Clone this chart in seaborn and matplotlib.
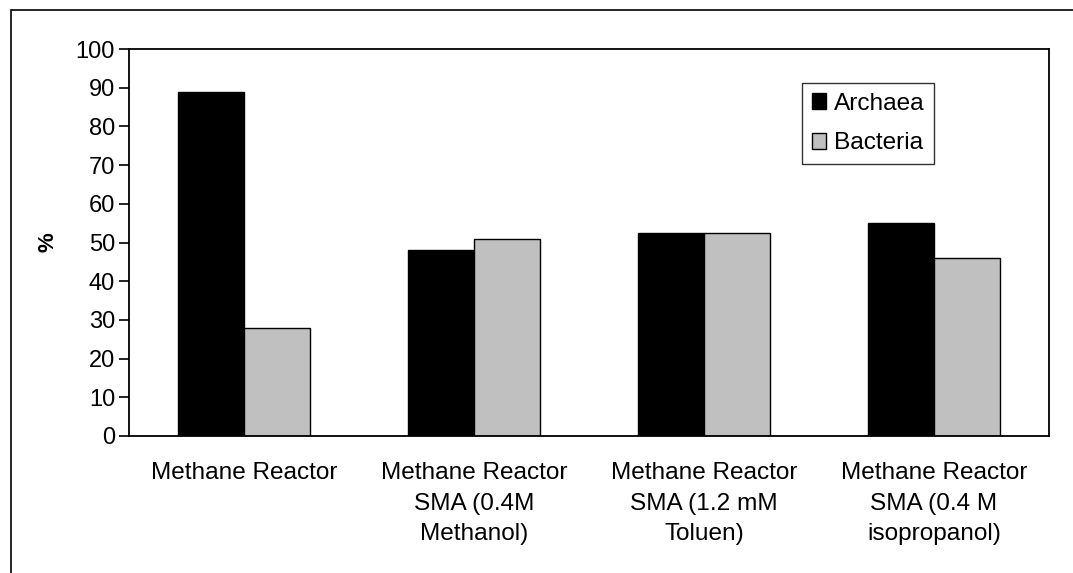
import matplotlib
matplotlib.use("Agg")
import matplotlib.pyplot as plt
import matplotlib.patches as mpatches
import seaborn as sns
import pandas as pd
import numpy as np

categories = ["Methane Reactor",
              "Methane Reactor\nSMA (0.4M\nMethanol)",
              "Methane Reactor\nSMA (1.2 mM\nToluen)",
              "Methane Reactor\nSMA (0.4 M\nisopropanol)"]
archaea = [89, 48, 52.5, 55]
bacteria = [28, 51, 52.5, 46]
series = ["Archaea", "Bacteria"]
colors = ["#000000", "#C0C0C0"]
yticks = list(range(0, 101, 10))

df = pd.DataFrame({
    "cat": categories * 2,
    "val": archaea + bacteria,
    "series": [series[0]] * 4 + [series[1]] * 4,
})

sns.set_style("white")
plt.rcParams['font.family'] = ['Liberation Sans', 'DejaVu Sans']
plt.rcParams['text.color'] = 'black'
plt.rcParams['xtick.color'] = 'black'
plt.rcParams['ytick.color'] = 'black'
plt.rcParams['axes.labelcolor'] = 'black'

fig = plt.figure(figsize=(10.73, 5.73), dpi=100)
ax = fig.add_axes([129/1073, 1-436/573, (1049-129)/1073, (436-49)/573])

sns.barplot(data=df, x="cat", y="val", hue="series", palette=colors,
            width=0.575, edgecolor="black", linewidth=1.0, ax=ax,
            saturation=1, legend=False)

ax.set_ylim(0, 100)
ax.set_xlim(-0.5, 3.5)
ax.set_yticks(yticks)
ax.set_yticklabels([str(t) for t in yticks], fontsize=17)
ax.set_xticks(range(4))
ax.set_xticklabels(categories, fontsize=17.6, linespacing=1.5)
ax.set_xticks(np.arange(-0.5, 4, 1), minor=True)
ax.tick_params(axis='x', which='major', length=0, pad=19)
ax.tick_params(axis='x', which='minor', length=7, width=1.2, color='black', direction='out')
ax.tick_params(axis='y', length=7, width=1.2, color='black', direction='out', left=True, pad=3)
ax.set_xlabel("")
ax.set_ylabel("%", fontsize=16, fontweight='bold')
ax.yaxis.set_label_coords((58-129)/920, 0.5)
for s in ax.spines.values():
    s.set_visible(True)
    s.set_color('black')
    s.set_linewidth(1.3)

handles = [mpatches.Patch(facecolor=c, edgecolor='black', linewidth=1.0, label=l)
           for c, l in zip(colors, series)]
leg = fig.legend(handles=handles, loc='upper left',
                 bbox_to_anchor=(802/1073, 1-83/573), borderaxespad=0,
                 fontsize=17.6, fancybox=False, frameon=True,
                 handlelength=0.6, handleheight=0.6, handletextpad=0.3,
                 labelspacing=0.72, borderpad=0.4)
leg.get_frame().set_edgecolor('black')
leg.get_frame().set_linewidth(1.0)

# outer chart-area border
fig.patches.append(mpatches.Rectangle((11/1073, -0.05), 1.2, 1-10/573+0.05,
                                      transform=fig.transFigure, fill=False,
                                      edgecolor='black', linewidth=1.2))

fig.savefig("out.png", dpi=100)
